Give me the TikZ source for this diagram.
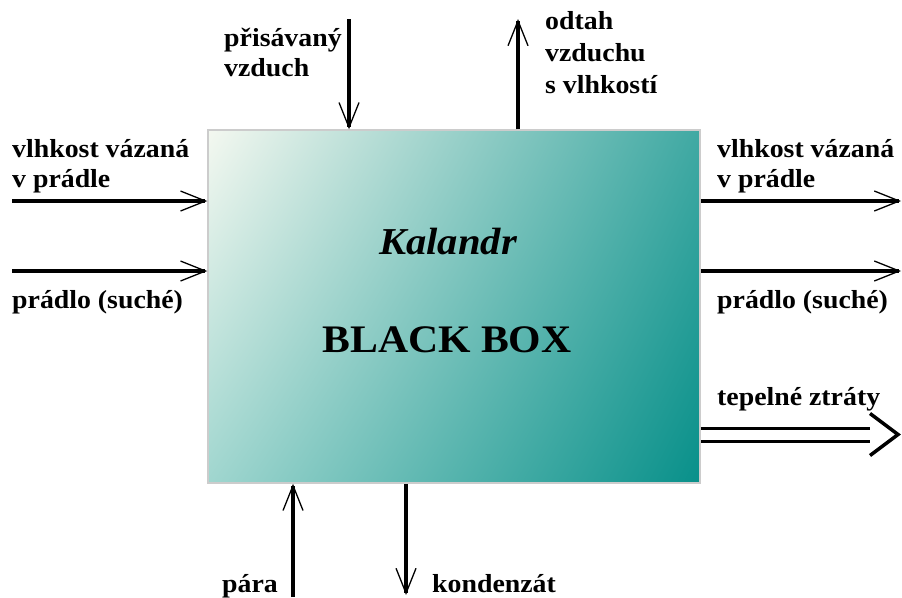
\documentclass[tikz,border=0pt]{standalone}
\usepackage{fontspec}
\setmainfont{Liberation Serif}[FakeStretch=1.07]
\usetikzlibrary{arrows.meta,shadings}

\definecolor{boxUL}{HTML}{F4F8F0}
\definecolor{boxUR}{HTML}{40A9A3}
\definecolor{boxLL}{HTML}{A0D6CF}
\definecolor{boxLR}{HTML}{08908A}

\begin{document}
\begin{tikzpicture}[
  x=1pt, y=-1pt,
  blackbox/.style={draw=gray!40, line width=1.5pt, minimum width=492pt,
    minimum height=353pt, inner sep=0pt, shade,
    upper left=boxUL, upper right=boxUR, lower left=boxLL, lower right=boxLR},
  flow/.style={line width=3.2pt,
    -{Straight Barb[length=25pt, width=20pt, line width=1.3pt]}},
  lbl/.style={font=\fontsize{26}{30}\selectfont\bfseries, inner sep=0pt,
    align=left, anchor=base west}
]
\useasboundingbox (0,0) rectangle (902,597);

% The box
\node[blackbox] (bb) at (454,306.5) {};
\node[font=\fontsize{38}{40}\selectfont\bfseries\itshape, inner sep=0pt,
  anchor=base] (title) at (448,254) {Kalandr};
\node[font=\fontsize{39}{40}\selectfont\bfseries, inner sep=0pt,
  anchor=base] (name) at (447,352) {BLACK BOX};

% Free ends of the flows
\coordinate (inWet) at (12,201);
\coordinate (inDry) at (12,271);
\coordinate (outWet) at (901,201);
\coordinate (outDry) at (901,271);
\coordinate (airIn) at (349,19);
\coordinate (airOut) at (518,19);
\coordinate (steam) at (293,597);
\coordinate (cond) at (406,595);
\coordinate (loss) at (870,434.5);

% Flows in and out
\draw[flow] (inWet) -- (inWet -| bb.west);
\draw[flow] (inDry) -- (inDry -| bb.west);
\draw[flow] (outWet -| bb.east) -- (outWet);
\draw[flow] (outDry -| bb.east) -- (outDry);
\draw[flow] (airIn) -- (airIn |- bb.north);
\draw[flow] (airOut |- bb.north) -- (airOut);
\draw[flow] (steam) -- (steam |- bb.south);
\draw[flow] (cond |- bb.south) -- (cond);

% Heat loss (double arrow)
\draw[line width=3pt, double, double distance=10pt] (loss -| bb.east) -- (loss);
\draw[line width=3.5pt] (loss) ++(0,-21) -- ++(28,21) -- ++(-28,21);

% Labels (base = last line)
\node[lbl] (wetL) at (12,187) {vlhkost vázaná\\v prádle};
\node[lbl] (dryL) at (12,308) {prádlo (suché)};
\node[lbl] (wetR) at (717,187) {vlhkost vázaná\\v prádle};
\node[lbl] (dryR) at (717,308) {prádlo (suché)};
\node[lbl] (lossL) at (717,405) {tepelné ztráty};
\node[lbl] (airInL) at (224,76) {přisávaný\\vzduch};
\node[lbl] (airOutL) at (545,93) {odtah\\[2pt]vzduchu\\[2pt]s vlhkostí};
\node[lbl] (steamL) at (222,592) {pára};
\node[lbl] (condL) at (432,592) {kondenzát};

\end{tikzpicture}
\end{document}
